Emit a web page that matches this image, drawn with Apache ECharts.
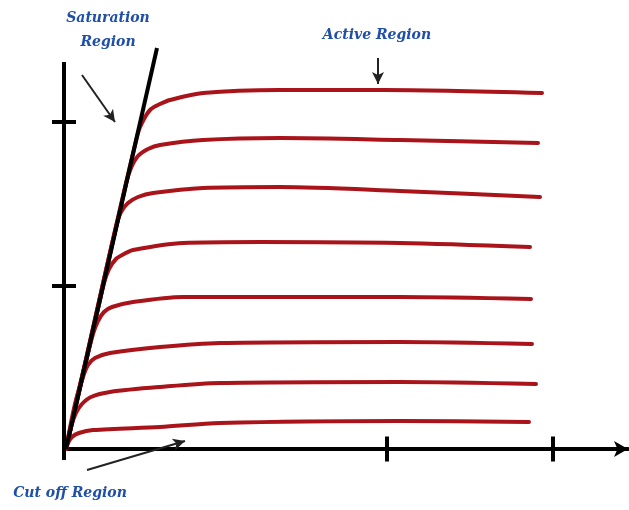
<!DOCTYPE html>
<html>
<head>
<meta charset="utf-8">
<script src="https://cdn.jsdelivr.net/npm/echarts@6/dist/echarts.min.js"></script>
<style>html,body{margin:0;padding:0;background:#fff;}#c{width:629px;height:510px;}</style>
</head>
<body>
<div id="c"></div>
<script>
// Output characteristic curves (x: V_CE, y: I_C), arbitrary units
const curve1 = [[2,0],[40,170],[74,316],[80,330],[87,340],[96,345],[106,349],[139,356],[216,359],[320,359],[478,356]];
const curve2 = [[2,0],[35,145],[62,265],[67,281],[74,293],[84,300],[96,304],[139,309],[216,311],[336,309],[474,306]];
const curve3 = [[2,0],[30,125],[52,222],[57,237],[64,246],[74,252],[89,256],[139,261],[216,262],[336,258],[476,252]];
const curve4 = [[2,0],[25,100],[40,166],[45,180],[52,190],[60,195],[69,199],[119,206],[196,207],[336,206],[466,202]];
const curve5 = [[2,0],[15,60],[29,115],[34,128],[40,137],[48,142],[69,147],[119,152],[196,152],[336,152],[467,150]];
const curve6 = [[2,0],[11,45],[19,72],[24,84],[31,91],[46,96],[96,102],[156,106],[336,107],[468,105]];
const curve7 = [[2,0],[7,22],[12,36],[18,45],[27,52],[46,57],[96,62],[156,66],[336,67],[472,65]];
const curve8 = [[2,0],[4,6],[8,12],[15,16],[29,19],[96,22],[156,26],[336,28],[465,27]];
const saturationLine = [[2,0],[93,401]];
const yAxisLine = [[0,-11],[0,387]];
const xTicks = [[323,0],[489,0]];
const yTicks = [[0,163],[0,327]];
const labels = ['Saturation', 'Region', 'Active Region', 'Cut off Region'];

const curves = [curve1,curve2,curve3,curve4,curve5,curve6,curve7,curve8];
const red = '#a8141a';
const series = curves.map(c => ({
  type:'line', data:c, smooth:0.3, showSymbol:false, symbol:'none',
  lineStyle:{color:red, width:4, cap:'round', join:'round'}, z:2, silent:true
}));
series.push({type:'line', data:yAxisLine, symbol:'none', lineStyle:{color:'#000', width:4}, z:3});
series.push({type:'line', data:saturationLine, symbol:'none', lineStyle:{color:'#000', width:4}, z:4});
series.push({type:'scatter', data:xTicks, symbol:'rect', symbolSize:[4,25], itemStyle:{color:'#000', opacity:1}, z:5});
series.push({type:'scatter', data:yTicks, symbol:'rect', symbolSize:[24,4], itemStyle:{color:'#000', opacity:1}, z:5});
series.push({type:'line', data:[], symbol:'none',
  markLine:{silent:true, symbol:['none','arrow'], symbolSize:[9,12], label:{show:false},
    lineStyle:{color:'#222', width:2, type:'solid'},
    data:[
      [{coord:[18,374]},{coord:[51,327]}],
      [{coord:[314,391]},{coord:[314,365]}],
      [{coord:[23,-21]},{coord:[121,8]}]
    ]}});

const chart = echarts.init(document.getElementById('c'));
const font = {fill:'#1f4fa8', font:'italic bold 14px "DejaVu Serif", serif', textAlign:'center', textVerticalAlign:'middle'};
chart.setOption({
  animation:false,
  backgroundColor:'#fff',
  grid:{left:64, right:1, top:48, bottom:36},
  xAxis:{type:'value', min:0, max:564,
    axisLine:{show:true, onZero:true, symbol:['none','arrow'], symbolSize:[12,14], lineStyle:{color:'#000', width:4}},
    axisTick:{show:false}, axisLabel:{show:false}, splitLine:{show:false}},
  yAxis:{type:'value', min:-25, max:401,
    axisLine:{show:false}, axisTick:{show:false}, axisLabel:{show:false}, splitLine:{show:false}},
  series:series,
  graphic:[
    {type:'text', x:108, y:18, style:Object.assign({text:labels[0]}, font)},
    {type:'text', x:108, y:42, style:Object.assign({text:labels[1]}, font)},
    {type:'text', x:377, y:35, style:Object.assign({text:labels[2]}, font)},
    {type:'text', x:70, y:493, style:Object.assign({text:labels[3]}, font)}
  ]
});
</script>
</body>
</html>
